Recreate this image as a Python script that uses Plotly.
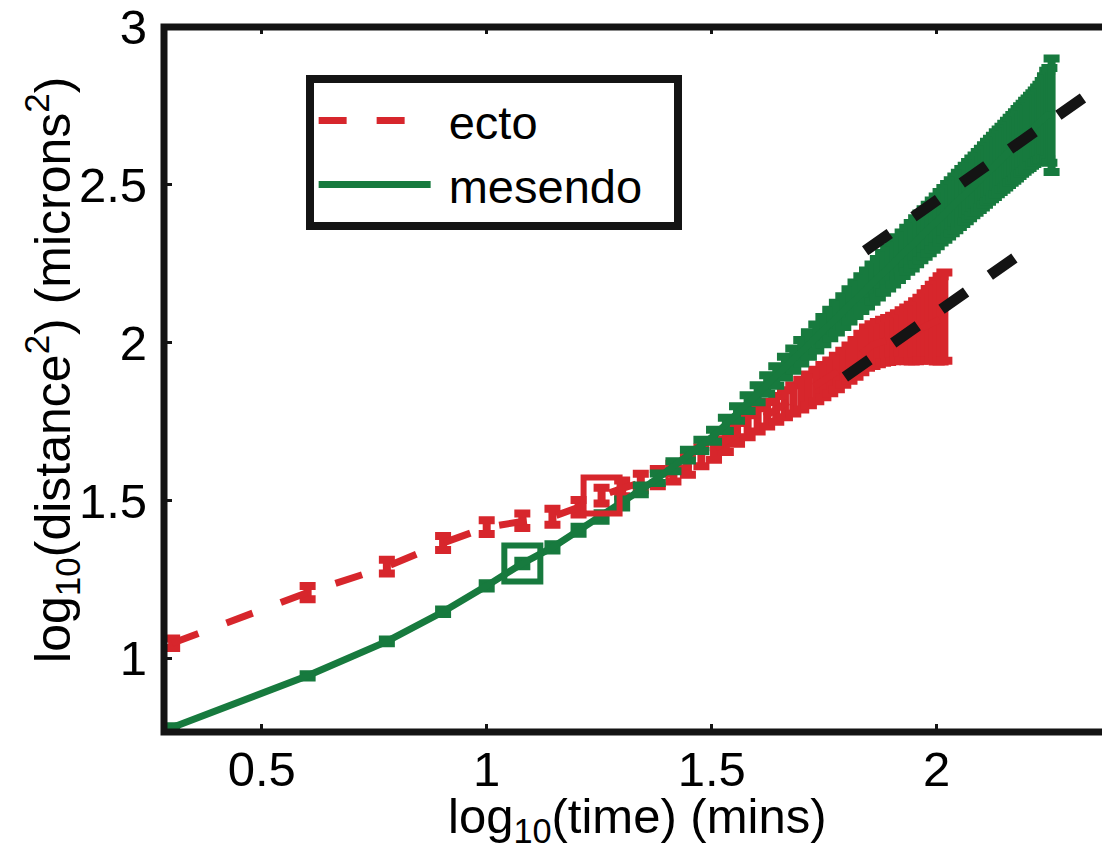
import numpy as np
import plotly.graph_objects as go

# ---------------- data ----------------
time_mes = [2, 4, 6, 8, 10, 12, 14, 16, 18, 20, 22, 24, 26, 28, 30, 32, 34, 36, 38, 40,
            42, 44, 46, 48, 50, 52, 54, 56, 58, 60, 62, 64, 66, 68, 70, 72, 74, 76, 78, 80,
            82, 84, 86, 88, 90, 92, 94, 96, 98, 100, 102, 104, 106, 108, 110, 112, 114, 116, 118, 120,
            122, 124, 126, 128, 130, 132, 134, 136, 138, 140, 142, 144, 146, 148, 150, 152, 154, 156, 158, 160,
            162, 164, 166, 168, 170, 172, 174, 176, 178, 180]
msd_mes = [0.780, 0.944, 1.053, 1.147, 1.229, 1.300, 1.351, 1.405, 1.447, 1.490,
           1.533, 1.570, 1.608, 1.643, 1.674, 1.705, 1.741, 1.775, 1.808, 1.838,
           1.867, 1.894, 1.922, 1.946, 1.971, 1.994, 2.016, 2.038, 2.059, 2.079,
           2.098, 2.118, 2.137, 2.155, 2.171, 2.188, 2.204, 2.221, 2.236, 2.251,
           2.266, 2.280, 2.294, 2.307, 2.321, 2.335, 2.347, 2.360, 2.372, 2.384,
           2.397, 2.408, 2.419, 2.430, 2.441, 2.452, 2.463, 2.472, 2.483, 2.493,
           2.502, 2.512, 2.521, 2.531, 2.541, 2.550, 2.558, 2.568, 2.576, 2.584,
           2.592, 2.601, 2.609, 2.617, 2.625, 2.634, 2.642, 2.649, 2.657, 2.663,
           2.671, 2.678, 2.685, 2.692, 2.699, 2.707, 2.714, 2.721, 2.720, 2.720]
err_mes = [0.004, 0.005, 0.006, 0.007, 0.008, 0.009, 0.010, 0.011, 0.012, 0.013,
           0.014, 0.015, 0.016, 0.017, 0.018, 0.019, 0.021, 0.023, 0.025, 0.027,
           0.029, 0.031, 0.033, 0.035, 0.037, 0.039, 0.041, 0.043, 0.045, 0.047,
           0.049, 0.051, 0.053, 0.055, 0.057, 0.059, 0.061, 0.063, 0.065, 0.067,
           0.068, 0.069, 0.070, 0.072, 0.073, 0.074, 0.075, 0.077, 0.078, 0.079,
           0.080, 0.082, 0.083, 0.084, 0.085, 0.086, 0.087, 0.088, 0.089, 0.090,
           0.091, 0.092, 0.093, 0.094, 0.095, 0.096, 0.097, 0.098, 0.099, 0.100,
           0.101, 0.102, 0.103, 0.104, 0.105, 0.106, 0.107, 0.108, 0.109, 0.110,
           0.111, 0.112, 0.114, 0.116, 0.118, 0.122, 0.130, 0.140, 0.150, 0.180]

time_ect = [2, 4, 6, 8, 10, 12, 14, 16, 18, 20, 22, 24, 26, 28, 30, 32, 34, 36, 38, 40,
            42, 44, 46, 48, 50, 52, 54, 56, 58, 60, 62, 64, 66, 68, 70, 72, 74, 76, 78, 80,
            82, 84, 86, 88, 90, 92, 94, 96, 98, 100, 102, 104]
msd_ect = [1.047, 1.208, 1.290, 1.365, 1.415, 1.435, 1.448, 1.478, 1.515, 1.538,
           1.558, 1.572, 1.588, 1.610, 1.638, 1.660, 1.685, 1.712, 1.735, 1.755,
           1.773, 1.790, 1.806, 1.820, 1.835, 1.850, 1.864, 1.878, 1.891, 1.905,
           1.920, 1.935, 1.950, 1.967, 1.984, 1.992, 1.998, 2.004, 2.008, 2.013,
           2.018, 2.022, 2.026, 2.030, 2.036, 2.042, 2.050, 2.057, 2.063, 2.068,
           2.075, 2.082]
err_ect = [0.015, 0.021, 0.022, 0.022, 0.022, 0.023, 0.025, 0.023, 0.025, 0.025,
           0.026, 0.027, 0.028, 0.029, 0.030, 0.031, 0.032, 0.033, 0.035, 0.037,
           0.039, 0.041, 0.043, 0.045, 0.047, 0.049, 0.050, 0.051, 0.052, 0.053,
           0.054, 0.056, 0.058, 0.061, 0.064, 0.066, 0.067, 0.068, 0.070, 0.072,
           0.075, 0.080, 0.085, 0.090, 0.095, 0.100, 0.106, 0.113, 0.120, 0.128,
           0.135, 0.140]

# highlighted (crossover) points
sq_time_mes = [12]
sq_msd_mes = [1.300]
sq_time_ect = [18]
sq_msd_ect = [1.515]

# slope-1 reference fits
fit_ect_x = [1.796, 2.178]
fit_ect_y = [1.891, 2.273]
fit_mes_x = [1.841, 2.45]
fit_mes_y = [2.291, 2.900]

series_names = ["ecto", "mesendo"]
x_ticks = [0.5, 1, 1.5, 2]
x_tick_labels = ["0.5", "1", "1.5", "2"]
y_ticks = [1, 1.5, 2, 2.5, 3]
y_tick_labels = ["1", "1.5", "2", "2.5", "3"]

x_title = "log<sub>10</sub>(time) (mins)"
y_title = "log<sub>10</sub>(distance<sup>2</sup>) (microns<sup>2</sup>)"

# ---------------- styling ----------------
RED = "#d7262c"
GREEN = "#177a3e"
BLACK = "#141414"
FONT = "Liberation Sans, Arial, Helvetica, sans-serif"
NB = "\u00a0"

fig = go.Figure()

fig.add_trace(go.Scatter(
    x=np.log10(time_ect), y=msd_ect, mode="lines", name=NB + series_names[0],
    line=dict(color=RED, width=7, dash="28px,30px"),
    error_y=dict(type="data", array=err_ect, color=RED, thickness=8, width=8),
))
fig.add_trace(go.Scatter(
    x=np.log10(time_mes), y=msd_mes, mode="lines", name=NB + series_names[1] + NB + NB,
    line=dict(color=GREEN, width=7),
    error_y=dict(type="data", array=err_mes, color=GREEN, thickness=8, width=8),
))
fig.add_trace(go.Scatter(
    x=np.log10(sq_time_mes), y=sq_msd_mes, mode="markers", showlegend=False,
    marker=dict(symbol="square-open", size=36, color=GREEN, line=dict(width=6, color=GREEN)),
))
fig.add_trace(go.Scatter(
    x=np.log10(sq_time_ect), y=sq_msd_ect, mode="markers", showlegend=False,
    marker=dict(symbol="square-open", size=36, color=RED, line=dict(width=6, color=RED)),
))
for fx, fy in [(fit_ect_x, fit_ect_y), (fit_mes_x, fit_mes_y)]:
    fig.add_trace(go.Scatter(
        x=fx, y=fy, mode="lines", showlegend=False,
        line=dict(color=BLACK, width=11, dash="30px,29px"),
    ))

# axes frame (left, bottom, top), centred on the plot edges
fig.add_shape(type="path", xref="paper", yref="paper",
              path="M 1.02,0.99859 L 0,0.99859 L 0,0 L 1.02,0",
              line=dict(color=BLACK, width=7), layer="above")

# axis titles
fig.add_annotation(text=y_title, xref="paper", yref="paper",
                   x=-0.119, y=0.5134, xanchor="center", yanchor="middle",
                   textangle=-90, showarrow=False,
                   font=dict(family=FONT, size=50, color="black"))
fig.add_annotation(text=x_title, xref="paper", yref="paper",
                   x=0.504, y=-0.1243, xanchor="center", yanchor="middle",
                   showarrow=False,
                   font=dict(family=FONT, size=49, color="black"))

fig.update_layout(
    width=1102, height=858,
    margin=dict(l=164, r=0, t=23, b=126),
    paper_bgcolor="white", plot_bgcolor="white",
    font=dict(family=FONT, size=49, color="black"),
    showlegend=True,
    legend=dict(
        x=0.151, y=0.93, xanchor="left", yanchor="top",
        bgcolor="white", bordercolor=BLACK, borderwidth=8,
        font=dict(family=FONT, size=47, color="black"),
        itemwidth=112, traceorder="normal",
    ),
    xaxis=dict(
        range=[0.2829, 2.3673], showgrid=False, zeroline=False, showline=False,
        tickmode="array", tickvals=x_ticks, ticktext=x_tick_labels,
        ticks="inside", ticklen=8, tickwidth=3, tickcolor=BLACK, mirror="ticks",
        ticklabelstandoff=4, ticklabeloverflow="allow",
        tickfont=dict(family=FONT, size=49, color="black"),
    ),
    yaxis=dict(
        range=[0.766, 3.003], showgrid=False, zeroline=False, showline=False,
        tickmode="array", tickvals=y_ticks, ticktext=y_tick_labels,
        ticks="inside", ticklen=8, tickwidth=3, tickcolor=BLACK,
        ticklabelstandoff=16, ticklabeloverflow="allow",
        tickfont=dict(family=FONT, size=49, color="black"),
    ),
)

fig.write_html("out.html")
